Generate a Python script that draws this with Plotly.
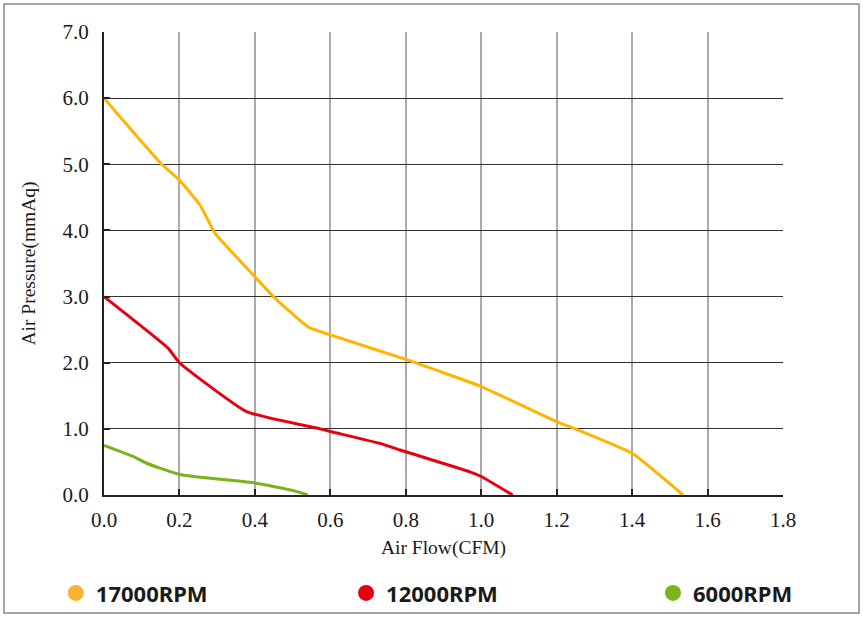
import plotly.graph_objects as go

# P-Q curves
rpm_labels = ['17000RPM', '12000RPM', '6000RPM']

flow_17000 = [0, 0.153, 0.2, 0.255, 0.294, 0.4, 0.449, 0.541, 0.6, 0.8, 1.0, 1.2, 1.249, 1.4, 1.535]
pres_17000 = [6.0, 5.0, 4.76, 4.38, 3.96, 3.30, 3.0, 2.54, 2.42, 2.05, 1.64, 1.11, 1.0, 0.63, 0.0]

flow_12000 = [0, 0.17, 0.2, 0.378, 0.573, 0.6, 0.732, 0.785, 0.97, 1.0, 1.083]
pres_12000 = [3.0, 2.22, 2.0, 1.26, 1.0, 0.96, 0.78, 0.68, 0.35, 0.28, 0.0]

flow_6000 = [0, 0.078, 0.113, 0.2, 0.4, 0.5, 0.54]
pres_6000 = [0.75, 0.58, 0.48, 0.31, 0.18, 0.07, 0.0]

x_ticks = [0.0, 0.2, 0.4, 0.6, 0.8, 1.0, 1.2, 1.4, 1.6, 1.8]
y_ticks = [0.0, 1.0, 2.0, 3.0, 4.0, 5.0, 6.0, 7.0]

line_colors = ['#FFB400', '#E60012', '#76B41A']
dot_colors = ['#F9B233', '#E50011', '#7DB31C']

curves = [(flow_17000, pres_17000), (flow_12000, pres_12000), (flow_6000, pres_6000)]

fig = go.Figure()

for (fx, fy), name, c in zip(curves, rpm_labels, line_colors):
    fig.add_trace(go.Scatter(x=fx, y=fy, mode='lines', name=name, showlegend=False,
                             line=dict(color=c, width=3, shape='spline', smoothing=0.4)))

# legend entries shown as dots, one legend box per entry
legend_names = ['legend', 'legend2', 'legend3']
for name, c, lg in zip(rpm_labels, dot_colors, legend_names):
    fig.add_trace(go.Scatter(x=[None], y=[None], mode='markers', name=name, legend=lg,
                             marker=dict(color=c, size=16)))

serif = 'Liberation Serif, Times New Roman, serif'
leg_font = dict(family='Noto Sans, DejaVu Sans, sans-serif', size=22, color='#1a1a1a', weight='bold')

def leg(xpos):
    return dict(x=xpos, y=-0.212, xanchor='left', yanchor='middle', orientation='h',
                font=leg_font, bgcolor='rgba(0,0,0,0)', borderwidth=0)

fig.update_layout(
    width=863, height=618,
    margin=dict(l=104, r=80, t=32, b=123, autoexpand=False),
    paper_bgcolor='white', plot_bgcolor='white',
    font=dict(family=serif, color='#1a1a1a'),
    xaxis=dict(range=[0, 1.8], tickvals=x_ticks, ticktext=['%.1f' % v for v in x_ticks],
               tickfont=dict(family=serif, size=21), ticks='inside', ticklen=6, tickwidth=1.5,
               tickcolor='#222', showline=True, linecolor='#222', linewidth=2,
               showgrid=True, gridcolor='#AAAAAA', gridwidth=1.5, zeroline=False,
               ticklabelstandoff=5,
               title=dict(text='Air Flow(CFM)', font=dict(family=serif, size=19.5), standoff=9)),
    yaxis=dict(range=[0, 7.0], tickvals=y_ticks, ticktext=['%.1f' % v for v in y_ticks],
               tickfont=dict(family=serif, size=21), ticks='inside', ticklen=6, tickwidth=1.5,
               tickcolor='#222', showline=True, linecolor='#222', linewidth=2,
               showgrid=True, gridcolor='#333333', gridwidth=1.3, zeroline=False,
               ticklabelstandoff=9,
               title=dict(text='Air Pressure(mmAq)', font=dict(family=serif, size=19.5), standoff=22)),
    legend=leg(-0.071),
    legend2=leg(0.3565),
    legend3=leg(0.8085),
)

# outer frame around the whole picture
fig.add_shape(type='rect', xref='paper', yref='paper',
              x0=-0.1473, x1=1.1119, y0=-0.2549, y1=1.0605,
              line=dict(color='#888888', width=1.5), fillcolor='rgba(0,0,0,0)', layer='below')

# drop the default page margin so the figure sits at the window's corner
fig.write_html('out.html', config={'displayModeBar': False},
               post_script="document.body.style.margin='0px';")
